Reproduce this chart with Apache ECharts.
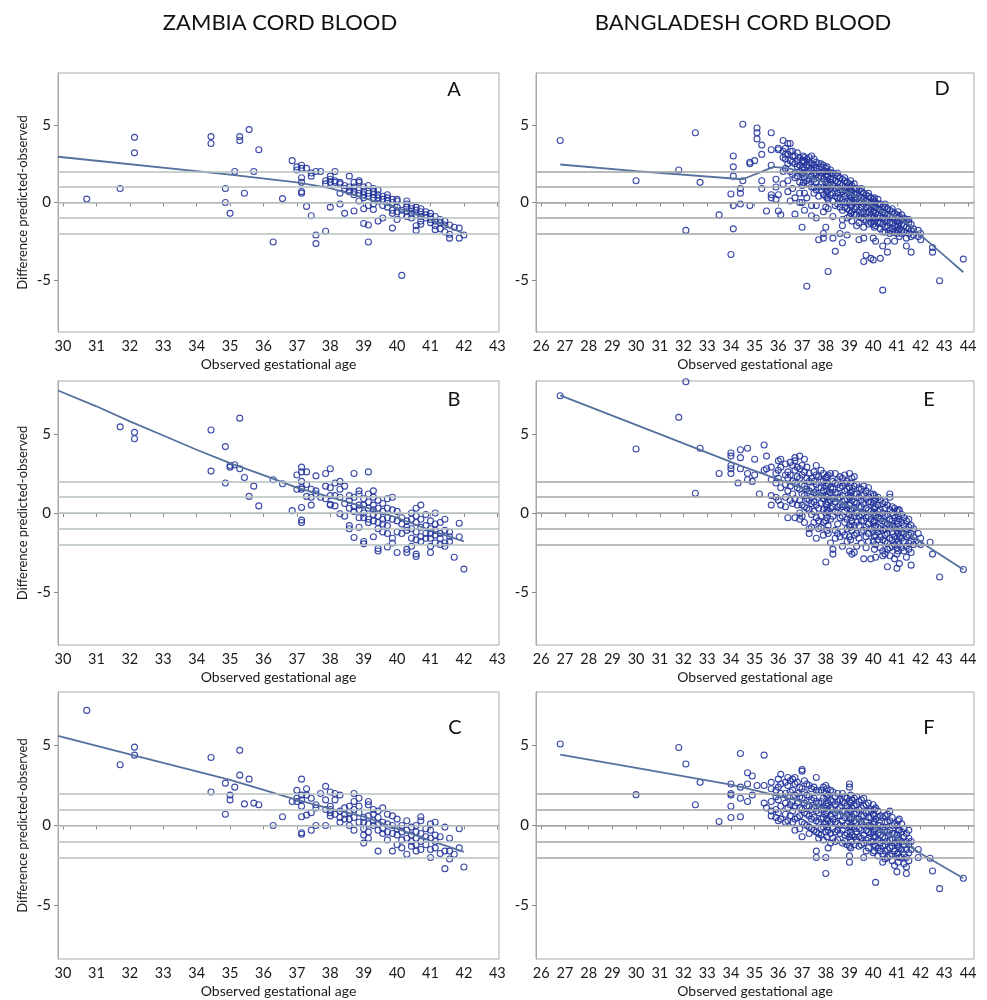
<!DOCTYPE html>
<html><head><meta charset="utf-8">
<script src="https://cdn.jsdelivr.net/npm/echarts@6/dist/echarts.min.js"></script>
<style>html,body{margin:0;padding:0;background:#fff}#chart{width:987px;height:1000px}</style>
</head><body><div id="chart"></div>
<script>
// ---------- data ----------
const columnTitles = ['ZAMBIA CORD BLOOD', 'BANGLADESH CORD BLOOD'];
const panelLetters = ['A', 'B', 'C', 'D', 'E', 'F'];
const xAxisTitle = 'Observed gestational age';
const yAxisTitle = 'Difference predicted-observed';
const zambiaTicks = [30, 31, 32, 33, 34, 35, 36, 37, 38, 39, 40, 41, 42, 43];
const bangladeshTicks = [26, 27, 28, 29, 30, 31, 32, 33, 34, 35, 36, 37, 38, 39, 40, 41, 42, 43, 44];
const diffTicks = [-5, 0, 5];
const refLevels = [-2, -1, 0, 1, 2];

// scatter data grouped as [gestational age, [differences...]]
const zambiaA = [
 [30.71,[0.22]],[31.71,[0.9]],[32.14,[4.2,3.2]],[34.43,[4.25,3.8]],[34.86,[0.9,0.0]],[35.0,[-0.7]],
 [35.14,[2.0]],[35.29,[4.25,4.0]],[35.43,[0.6]],[35.57,[4.7]],[35.71,[2.0]],[35.86,[3.4]],
 [36.29,[-2.55]],[36.57,[0.25]],[36.86,[2.7]],[37.0,[2.3,2.1]],[37.14,[2.4,2.2,1.6,1.3,0.7,0.6]],
 [37.29,[2.2,-0.25]],[37.43,[1.9,1.7,-0.85]],[37.57,[2.0,-2.1,-2.65]],[37.71,[2.0]],[37.86,[1.4,1.2,-1.85]],
 [38.0,[1.7,1.5,1.3,-0.3]],[38.14,[2.0,1.4,1.3]],[38.29,[1.3,1.2,0.6,-0.1]],[38.43,[1.1,0.9,-0.7]],
 [38.57,[1.7,1.0,0.8,0.7]],[38.71,[1.3,1.0,0.7,0.5,-0.55]],[38.86,[1.4,1.3,0.8,0.6,0.1]],
 [39.0,[1.0,0.7,0.5,0.3,-0.4,-1.35]],[39.14,[1.1,0.6,0.4,-0.2,-1.45,-2.55]],[39.29,[0.9,0.7,0.5,0.3,-0.1,-0.45]],
 [39.43,[0.8,0.5,0.3,0.1,-1.2]],[39.57,[0.4,0.2,-0.2,-1.0]],[39.71,[0.5,0.3,0.1,-0.3]],
 [39.86,[0.2,0.0,-0.5,-0.7,-1.65]],[40.0,[0.2,0.1,-0.3,-0.6,-1.1]],[40.14,[-0.5,-0.8,-4.7]],
 [40.29,[0.1,-0.1,-0.3,-0.6,-0.9]],[40.43,[-0.2,-0.4,-0.7,-1.0]],[40.57,[-0.3,-0.5,-0.8,-1.5,-1.8]],
 [40.71,[-0.4,-0.6,-0.9,-1.2,-1.4]],[40.86,[-0.6,-0.8,-1.0]],[41.0,[-0.7,-0.9,-1.1,-1.3]],
 [41.14,[-0.9,-1.2,-1.5,-1.75]],[41.29,[-1.1,-1.3,-1.7]],[41.43,[-1.2,-1.45,-1.9]],
 [41.57,[-1.45,-2.05,-2.3]],[41.71,[-1.6]],[41.86,[-1.65,-2.3]],[42.0,[-2.1]]
];
const zambiaB = [
 [31.71,[5.45]],[32.14,[5.1,4.7]],[34.43,[5.25,2.65]],[34.86,[4.2,1.9]],[35.0,[3.0,2.9]],[35.14,[3.05]],
 [35.29,[6.0,2.8]],[35.43,[2.25]],[35.57,[1.05]],[35.71,[1.7]],[35.86,[0.45]],[36.29,[2.1]],[36.57,[1.85]],
 [36.86,[0.15]],[37.0,[2.4,1.5]],[37.14,[2.9,2.6,2.0,1.6,1.5,0.35,-0.45,-0.6]],[37.29,[2.6,1.8,1.05]],
 [37.43,[1.5,1.0,0.5]],[37.57,[2.35,1.4,1.2]],[37.71,[1.0]],[37.86,[2.5,1.7,0.9]],[38.0,[2.8,1.6,1.1,0.55,0.5]],
 [38.14,[1.9,1.1,0.45]],[38.29,[2.0,1.5,1.0,-0.05]],[38.43,[1.7,0.6,-0.2]],[38.57,[1.1,0.8,0.3,-0.8,-1.0]],
 [38.71,[2.5,1.0,0.4,0.1,-1.55]],[38.86,[1.4,1.2,0.5,0.2,-0.3,-0.9]],[39.0,[0.9,0.5,0.0,-0.3,-1.8,-1.95]],
 [39.14,[2.6,1.2,0.7,0.3,-0.4,-0.6]],[39.29,[1.4,1.0,0.5,0.2,-0.1,-0.5,-1.5]],
 [39.43,[0.8,0.3,-0.2,-0.6,-1.0,-2.25,-2.4]],[39.57,[0.6,0.1,-0.4,-0.7,-1.2]],
 [39.71,[0.9,0.3,-0.3,-0.8,-1.3,-2.15]],[39.86,[1.0,0.2,-0.4,-1.6,-1.9]],[40.0,[0.1,-0.5,-1.2,-2.5]],
 [40.14,[-0.3,-0.7,-1.3]],[40.29,[-0.5,-0.9,-1.1,-2.3,-2.5]],[40.43,[0.0,-0.4,-1.0,-1.6,-2.1]],
 [40.57,[0.3,-0.2,-0.6,-1.2,-1.7,-2.6,-2.75]],[40.71,[0.5,-0.4,-0.9,-1.5,-1.8]],[40.86,[-0.1,-0.8,-1.3,-1.6]],
 [41.0,[-0.5,-1.0,-1.3,-1.6,-2.1,-2.5]],[41.14,[0.0,-0.7,-1.1,-1.4,-1.9]],[41.29,[-0.6,-1.3,-1.6,-2.0]],
 [41.43,[-0.4,-1.1,-1.9,-2.1]],[41.57,[-1.2,-1.5,-1.8]],[41.71,[-2.8]],[41.86,[-0.65,-1.5]],[42.0,[-3.55]]
];
const zambiaC = [
 [30.71,[7.2]],[31.71,[3.8]],[32.14,[4.9,4.4]],[34.43,[4.25,2.1]],[34.86,[2.65,0.7]],[35.0,[1.9,1.6]],
 [35.14,[2.4]],[35.29,[4.7,3.15]],[35.43,[1.35]],[35.57,[2.9]],[35.71,[1.4]],[35.86,[1.3]],[36.29,[0.0]],
 [36.57,[0.55]],[36.86,[1.5]],[37.0,[2.2,1.7,1.5]],[37.14,[2.9,1.9,1.6,1.2,0.55,-0.45,-0.55]],
 [37.29,[2.3,1.9,0.65]],[37.43,[1.7,0.8,-0.3]],[37.57,[1.3,1.1,0.0]],[37.71,[2.0]],[37.86,[2.45,1.6,1.0,0.0]],
 [38.0,[2.1,1.2,1.0,0.8,0.6]],[38.14,[2.0,1.6,0.7]],[38.29,[1.9,0.9,0.5,0.2]],[38.43,[1.1,0.7,0.4]],
 [38.57,[1.2,0.8,0.4,0.0]],[38.71,[2.0,1.5,1.0,0.5,-0.3]],[38.86,[1.7,1.2,0.8,0.2]],
 [39.0,[0.5,0.2,-0.2,-0.6,-1.1]],[39.14,[1.5,1.3,0.6,0.1,-0.4,-0.8]],[39.29,[1.0,0.7,0.3,0.0]],
 [39.43,[0.9,0.5,0.1,-0.3,-1.6]],[39.57,[1.1,0.2,-0.2,-0.5]],[39.71,[0.7,0.1,-0.4,-0.9]],
 [39.86,[0.6,0.0,-0.5,-1.6]],[40.0,[0.4,-0.2,-0.6,-1.2]],[40.14,[0.0,-0.4,-0.9,-1.4]],
 [40.29,[0.3,-0.3,-0.8,-1.8]],[40.43,[-0.1,-0.6,-1.0,-1.3]],[40.57,[0.0,-0.4,-0.8,-1.2,-1.6]],
 [40.71,[0.55,0.3,-0.5,-1.0,-1.5]],[40.86,[-0.2,-0.7,-1.2]],[41.0,[0.1,-0.3,-0.8,-1.5,-2.0]],
 [41.14,[0.2,-0.6,-1.0,-1.4]],[41.29,[-0.7,-1.75]],[41.43,[-0.1,-1.6,-2.7]],[41.57,[-0.8,-1.6,-2.1]],
 [41.71,[-1.8]],[41.86,[-0.2,-1.4]],[42.0,[-2.6]]
];
const bangladeshD = [
 [26.8,[4.0]],[30.0,[1.4]],[31.8,[2.1]],[32.1,[-1.8]],[32.5,[4.5]],[32.7,[1.3]],[33.5,[-0.8]],
 [34.0,[0.55,-3.35]],[34.1,[3.0,2.3,1.7,-0.2,-1.7]],[34.4,[0.9,0.6,-0.1]],[34.5,[5.05,1.4]],
 [34.8,[2.6,2.5,-0.2]],[35.0,[2.7]],[35.1,[4.8,4.5,4.1]],[35.3,[3.7,3.1,1.4,0.9]],[35.5,[-0.55]],
 [35.7,[4.5,3.4,2.4,0.5,0.3]],[35.9,[1.5,1.0,0.2]],[36.0,[3.5,3.4,0.5,-0.55]],[36.1,[-0.8]],
 [36.2,[4.0,3.3,2.9,2.0,1.2]],[36.4,[3.8,3.1,2.5,1.4,0.7]],[36.5,[3.8,3.3,2.7,2.0,0.1]],
 [36.7,[3.0,2.5,1.6,0.3,-0.75]],[36.9,[2.9,2.4,2.0,1.3,0.6,0.0]],[37.0,[2.7,2.2,1.8,1.1,0.0,-1.6]],
 [37.1,[2.9,2.6,2.1,1.6,0.6,-0.5]],[37.2,[2.8,2.4,1.9,1.4,0.3,-5.4]],[37.4,[3.0,2.5,2.2,1.7,1.0,-0.2,-0.85]],
 [37.6,[2.6,2.2,1.8,1.3,0.8,-0.2,-1.0]],[37.7,[2.5,2.0,1.6,1.0,0.4,-2.4]],
 [37.9,[2.4,2.0,1.5,1.0,0.5,-0.6,-2.0,-2.3]],[38.0,[2.2,1.8,1.3,0.9,0.4,-0.3,-1.6]],
 [38.1,[2.0,1.7,1.2,0.8,0.2,-0.4,-4.45]],[38.3,[1.9,1.5,1.1,0.6,0.1,-0.9,-2.3]],
 [38.4,[1.8,1.4,0.9,0.4,-0.2,-3.15]],[38.6,[1.6,1.2,0.8,0.3,-0.3,-2.0]],
 [38.7,[1.5,1.1,0.7,0.2,-0.5,-1.1,-1.5,-2.6]],[38.9,[1.3,1.0,0.6,0.1,-0.4,-1.0,-2.1]],
 [39.0,[1.2,0.9,0.5,0.0,-0.5,-0.9]],[39.1,[1.1,0.7,0.3,-0.2,-0.6,-1.2]],[39.3,[0.9,0.6,0.2,-0.3,-0.8,-1.5]],
 [39.4,[0.8,0.4,0.0,-0.5,-0.9,-1.3,-2.4]],[39.6,[0.6,0.3,-0.1,-0.6,-1.1,-1.6,-2.3,-3.8]],
 [39.7,[0.5,0.1,-0.3,-0.7,-1.2,-3.4]],[39.9,[0.3,0.0,-0.4,-0.8,-1.3,-3.6]],
 [40.0,[0.2,-0.2,-0.6,-1.0,-1.4,-2.3,-3.7]],[40.1,[0.0,-0.3,-0.7,-1.1,-1.5,-2.5]],
 [40.3,[-0.1,-0.5,-0.9,-1.3,-1.7,-3.6]],[40.4,[-0.3,-0.6,-1.0,-1.4,-1.9,-2.8,-5.65]],
 [40.6,[-0.4,-0.8,-1.2,-1.5,-2.5,-3.2]],[40.7,[-0.5,-0.9,-1.3,-1.8,-2.0]],[40.9,[-0.7,-1.1,-1.5,-1.9,-2.5]],
 [41.0,[-0.8,-1.2,-1.6,-2.0]],[41.1,[-0.9,-1.3,-1.7,-2.2]],[41.3,[-1.0,-1.5,-1.9]],
 [41.4,[-1.1,-1.6,-2.3,-2.8]],[41.6,[-1.4,-1.8,-2.2,-3.2]],[41.7,[-1.7,-2.1]],[41.9,[-1.8,-2.2]],
 [42.0,[-2.0,-2.4]],[42.5,[-2.9,-3.2]],[42.8,[-5.05]],[43.8,[-3.65]],
 [36.3,[3.5,3.1,2.8,2.2]],[36.6,[3.3,3.0,2.6,1.8,0.9]],[36.8,[3.2,2.7,2.3,1.7]],
 [37.05,[3.0,2.7,2.3,1.9,1.3]],[37.3,[2.9,2.6,2.4,2.0,1.5,1.2]],[37.5,[2.8,2.4,2.1,1.9,1.5,1.0,0.6]],
 [37.8,[2.5,2.3,1.9,1.7,1.2,0.8]],[38.05,[2.3,2.0,1.8,1.4,1.0,0.7,0.3]],[38.2,[2.1,1.9,1.5,1.3,0.9,0.5]],
 [38.5,[1.9,1.7,1.3,1.0,0.6,0.3,-0.1]],[38.8,[1.6,1.4,1.0,0.8,0.4,0.0,-0.3]],
 [39.05,[1.4,1.0,0.8,0.4,0.1,-0.2,-0.7]],[39.2,[1.2,0.9,0.5,0.3,0.0,-0.4,-0.8]],
 [39.5,[0.9,0.7,0.3,0.1,-0.3,-0.7,-1.0]],[39.8,[0.6,0.4,0.0,-0.2,-0.6,-1.0,-1.4]],
 [40.05,[0.3,0.1,-0.3,-0.5,-0.9,-1.2,-1.6]],[40.2,[0.2,-0.1,-0.4,-0.8,-1.0,-1.3]],
 [40.5,[-0.1,-0.3,-0.7,-1.0,-1.2,-1.6,-1.9]],[40.8,[-0.4,-0.6,-1.0,-1.3,-1.7,-1.9]],
 [41.05,[-0.6,-1.0,-1.2,-1.5,-1.8]],[41.2,[-0.8,-1.1,-1.4,-1.8,-2.0]],[41.5,[-1.1,-1.3,-1.7,-2.0]]
];
const bangladeshE = [
 [26.8,[7.42]],[30.0,[4.05]],[31.8,[6.05]],[32.1,[8.3]],[32.5,[1.25]],[32.7,[4.1]],[33.5,[2.5]],
 [34.0,[3.8,3.6,3.0,2.8,2.5]],[34.3,[1.9]],[34.4,[4.0,3.5,2.8]],[34.7,[4.1,2.5,2.1]],[34.9,[2.0]],
 [35.0,[3.4,2.4]],[35.2,[1.2]],[35.4,[4.3,2.7]],[35.5,[3.6,2.8]],[35.7,[2.9,2.1,1.1,0.5]],
 [35.9,[2.5,1.9,1.0]],[36.0,[3.3,2.7,2.2,0.8]],[36.1,[3.4,2.9,1.6,0.5]],[36.3,[3.1,2.4,1.8,1.0,0.4]],
 [36.4,[2.6,2.2,1.4,-0.3]],[36.6,[3.0,2.0,1.2,0.6]],[36.7,[3.5,3.3,2.7,1.9,0.9,-0.3]],
 [36.9,[3.6,2.8,2.2,1.5,0.8,0.0,-0.4]],[37.0,[3.0,2.4,1.8,1.2,0.5,-0.2]],[37.1,[3.4,2.6,1.7,1.1,0.4,-0.6]],
 [37.3,[2.5,2.0,1.4,0.8,0.2,-1.0,-1.3]],[37.4,[2.2,1.6,1.0,0.6,-0.1,-0.9]],
 [37.6,[3.0,2.4,1.8,1.2,0.5,-0.3,-1.6]],[37.7,[2.3,1.6,1.0,0.3,-0.5,-1.0]],
 [37.9,[2.5,2.0,1.4,0.9,0.2,-0.6,-1.4]],[38.0,[2.2,1.7,1.1,0.6,0.0,-0.5,-3.1]],
 [38.1,[2.4,1.8,1.2,0.7,0.1,-0.8,-1.3]],[38.3,[2.0,1.5,0.9,0.4,-0.2,-2.3,-2.6]],
 [38.4,[2.5,1.9,1.3,0.7,0.1,-1.1,-1.6]],[38.6,[2.3,1.6,1.0,0.5,-0.3,-1.5]],
 [38.7,[2.2,1.7,1.1,0.4,-0.2,-1.2,-2.1]],[38.9,[2.0,1.5,0.9,0.3,-0.4,-1.0,-1.8]],
 [39.0,[2.5,1.6,1.0,0.5,-0.1,-0.8,-1.5,-2.4]],[39.1,[2.2,1.4,0.8,0.2,-0.5,-1.1,-2.6]],
 [39.3,[1.8,1.2,0.6,0.0,-0.6,-1.3,-2.1]],[39.4,[1.6,1.0,0.4,-0.2,-0.8,-1.6]],
 [39.6,[1.7,1.2,0.6,0.0,-0.5,-1.1,-2.9]],[39.7,[1.4,0.9,0.3,-0.3,-0.9,-1.5,-2.2]],
 [39.9,[1.2,0.7,0.1,-0.4,-1.0,-2.9]],[40.0,[1.2,0.6,0.0,-0.6,-1.2,-1.8]],
 [40.1,[0.9,0.4,-0.2,-0.8,-1.4,-2.0,-2.8]],[40.3,[0.8,0.2,-0.4,-1.0,-1.5,-2.2]],
 [40.4,[0.6,0.0,-0.5,-1.1,-1.7,-2.4,-2.7]],[40.6,[0.5,-0.1,-0.7,-1.3,-1.9,-2.3,-3.4]],
 [40.7,[1.2,1.0,0.2,-0.4,-1.0,-1.6,-2.2,-2.7]],[40.9,[0.3,-0.3,-0.9,-1.5,-2.0,-2.9]],
 [41.0,[0.1,-0.5,-1.1,-1.6,-2.2,-2.6,-3.5]],[41.1,[0.2,-0.4,-1.0,-1.5,-2.0,-3.2]],
 [41.3,[-0.3,-0.8,-1.3,-1.8,-2.4]],[41.4,[-0.5,-1.0,-1.5,-2.1,-2.8]],[41.6,[-0.8,-1.3,-1.8,-2.5,-3.3]],
 [41.7,[-1.0,-1.5,-2.0]],[41.9,[-1.3,-1.9]],[42.0,[-1.6,-2.0]],[42.4,[-1.85]],[42.5,[-2.6]],
 [42.8,[-4.05]],[43.8,[-3.57]],
 [36.5,[3.2,2.4,1.7,0.8]],[36.8,[2.9,2.3,1.6,0.5]],[37.2,[2.9,2.2,1.5,0.9,0.3]],
 [37.5,[2.6,2.0,1.3,0.7,0.1,-0.6]],[37.8,[2.7,2.1,1.6,1.1,0.6,-0.2,-0.9]],
 [38.05,[2.3,1.9,1.4,1.0,0.5,0.2,-0.3,-1.1]],[38.2,[2.5,1.6,1.3,0.8,0.3,-0.4,-1.9]],
 [38.5,[2.1,1.8,1.2,0.9,0.4,0.0,-0.7,-1.3]],[38.8,[2.4,1.9,1.4,0.8,0.5,0.1,-0.6,-1.4]],
 [39.05,[1.9,1.3,1.1,0.6,0.2,-0.3,-0.9,-1.7]],[39.2,[2.3,1.7,1.2,0.7,0.3,-0.2,-0.8,-1.4,-2.5]],
 [39.5,[1.5,1.1,0.8,0.4,-0.1,-0.5,-1.2,-1.9]],[39.8,[1.6,1.0,0.7,0.2,-0.2,-0.7,-1.3,-1.8]],
 [40.05,[1.1,0.8,0.3,-0.1,-0.5,-0.9,-1.5,-2.3]],[40.2,[1.0,0.5,0.1,-0.3,-0.9,-1.2,-1.7]],
 [40.5,[0.7,0.3,-0.2,-0.6,-1.0,-1.4,-1.8,-2.6]],[40.8,[0.4,0.0,-0.5,-0.8,-1.2,-1.7,-2.1]],
 [41.05,[0.2,-0.2,-0.7,-1.3,-1.8,-2.4]],[41.2,[-0.1,-0.6,-1.2,-1.6,-2.2]],[41.5,[-0.4,-0.9,-1.4,-1.9,-2.3]]
];
const bangladeshF = [
 [26.8,[5.1]],[30.0,[1.93]],[31.8,[4.88]],[32.1,[3.85]],[32.5,[1.3]],[32.7,[2.7]],[33.5,[0.25]],
 [34.0,[2.6,2.0,1.9,1.2,0.5]],[34.4,[4.5,2.4,1.7,0.55]],[34.7,[3.3,2.6,1.5]],[34.9,[3.1,1.9]],[35.1,[2.5]],
 [35.4,[4.4,2.5,1.4]],[35.5,[1.1]],[35.7,[2.7,2.3,1.5,0.9,0.6]],[35.9,[2.2,1.8,1.0,0.5]],
 [36.0,[2.9,2.4,1.6,0.8,0.3]],[36.1,[3.2,2.6,2.0,1.2,0.4]],[36.3,[2.7,2.0,1.4,0.7,0.2]],
 [36.4,[3.0,2.5,1.8,1.1,0.3]],[36.6,[2.9,2.2,1.5,0.9,0.2]],[36.7,[3.0,2.6,1.9,1.2,0.4,-0.3]],
 [36.9,[2.4,1.8,1.1,0.6,-0.2]],[37.0,[3.5,3.4,2.3,1.7,1.0,0.2,-0.7]],[37.1,[2.8,2.1,1.4,0.8,0.1]],
 [37.3,[2.5,1.8,1.2,0.6,-0.1,-0.5]],[37.4,[2.3,1.6,1.0,0.4,-0.2]],
 [37.6,[3.0,2.2,1.5,0.9,0.3,-0.4,-1.6,-2.0]],[37.7,[2.1,1.4,0.8,0.2,-0.5,-0.8]],
 [37.9,[2.4,1.7,1.1,0.5,-0.1,-0.9]],[38.0,[2.5,2.0,1.3,0.7,0.1,-0.4,-2.0,-3.0]],
 [38.1,[1.9,1.4,0.9,0.3,-0.3,-1.4]],[38.3,[2.1,1.5,1.0,0.4,-0.2,-0.8]],[38.4,[1.8,1.3,0.8,0.2,-0.4,-1.0]],
 [38.6,[1.6,1.1,0.6,0.0,-0.5]],[38.7,[2.0,1.5,0.9,0.3,-0.3,-1.1]],[38.9,[1.7,1.2,0.7,0.1,-0.5,-1.2]],
 [39.0,[2.6,2.4,1.5,1.0,0.5,-0.1,-0.7,-1.3,-1.9,-2.3]],[39.1,[1.6,1.1,0.5,-0.1,-0.6,-1.0]],
 [39.3,[1.8,1.3,0.8,0.2,-0.4,-0.9]],[39.4,[1.5,1.0,0.4,-0.2,-0.7,-1.3]],
 [39.6,[1.7,1.2,0.6,0.0,-0.6,-1.1,-2.0]],[39.7,[1.3,0.8,0.2,-0.3,-0.9,-1.6]],
 [39.9,[1.0,0.5,0.0,-0.5,-1.0]],[40.0,[1.3,0.7,0.1,-0.4,-1.0,-1.7]],
 [40.1,[1.1,0.4,-0.2,-0.7,-1.3,-3.56]],[40.3,[0.6,0.0,-0.6,-1.1,-1.6]],
 [40.4,[0.5,-0.1,-0.7,-1.3,-1.8,-2.3]],[40.6,[0.7,0.2,-0.4,-1.0,-1.5,-2.0]],
 [40.7,[0.9,0.3,-0.3,-0.9,-1.4,-1.9]],[40.9,[0.1,-0.5,-1.1,-1.6,-2.5]],[41.0,[0.0,-0.6,-1.2,-1.8,-2.9]],
 [41.1,[0.4,-0.3,-0.9,-1.4,-2.0]],[41.3,[-0.2,-0.7,-1.2,-1.8,-2.4]],[41.4,[-0.5,-1.0,-1.5,-2.0,-2.6,-3.0]],
 [41.6,[-1.0,-1.5]],[41.9,[-1.5,-2.0]],[42.4,[-2.05]],[42.5,[-2.85]],[42.8,[-3.95]],[43.8,[-3.3]],
 [36.5,[2.8,2.1,1.3,0.6]],[36.8,[2.7,2.0,1.4,0.5]],[37.2,[2.6,1.9,1.2,0.7,0.0]],
 [37.5,[2.4,1.7,1.1,0.5,-0.3]],[37.8,[2.2,1.5,1.0,0.4,-0.2,-0.6]],
 [38.05,[2.3,1.8,1.2,0.8,0.4,-0.1,-0.7]],[38.2,[2.2,1.6,1.1,0.6,0.2,-0.5,-1.1]],
 [38.5,[2.0,1.5,1.0,0.6,0.1,-0.3,-0.9]],[38.8,[1.8,1.4,0.9,0.5,0.0,-0.6,-1.0]],
 [39.05,[1.9,1.4,0.9,0.4,0.0,-0.4,-0.9,-1.4]],[39.2,[1.7,1.2,0.7,0.3,-0.2,-0.7,-1.2]],
 [39.5,[1.6,1.1,0.6,0.2,-0.3,-0.8,-1.2]],[39.8,[1.4,0.9,0.5,0.0,-0.4,-0.8,-1.4]],
 [40.05,[1.0,0.6,0.2,-0.3,-0.7,-1.2,-1.6]],[40.2,[0.9,0.5,0.0,-0.5,-0.9,-1.4,-1.9]],
 [40.5,[0.6,0.2,-0.3,-0.8,-1.2,-1.6,-2.1]],[40.8,[0.5,0.0,-0.5,-0.9,-1.3,-1.8,-2.2]],
 [41.05,[0.3,-0.3,-0.8,-1.3,-1.7,-2.3]],[41.2,[0.1,-0.4,-1.0,-1.5,-2.0]],[41.5,[-0.3,-0.8,-1.2,-1.7,-2.2]]
];

// smoothed trend lines [age, difference]
const trendA = [[29.85,2.95],[35,1.8],[37,1.3],[38,0.92],[39,0.3],[40,-0.35],[41,-1.1],[42,-2.0]];
const trendB = [[29.85,7.75],[31,6.75],[32,5.8],[33,4.9],[34,4.0],[35,3.15],[36,2.4],[37,1.6],[38,1.0],[39,0.4],[40,-0.3],[41,-1.1],[42,-1.8]];
const trendC = [[29.85,5.6],[32,4.45],[35,2.85],[37,1.6],[38,1.05],[39,0.55],[40,-0.2],[41,-0.95],[42,-1.65]];
const trendD = [[26.8,2.45],[30,2.02],[34.5,1.5],[35.8,2.3],[36.5,2.19],[37,1.88],[38,1.24],[39,0.6],[39.5,0.17],[40,-0.26],[40.5,-0.68],[41,-0.95],[41.5,-1.42],[42,-2.1],[43,-3.43],[43.8,-4.5]];
const trendE = [[26.8,7.44],[30,5.58],[34.4,3.0],[37.9,1.08],[40,-0.17],[41,-0.95],[41.7,-1.55],[43.8,-3.58]];
const trendF = [[26.8,4.43],[30,3.6],[34,2.55],[37,1.5],[39,0.56],[40,-0.06],[41,-0.8],[42,-1.75],[43.8,-3.3]];

// ---------- layout / style ----------
const FONT = 'Lato, "Open Sans", sans-serif';
const cols = [
  { left: 58, width: 441, min: 29.85, max: 43.05, ticks: zambiaTicks, ref: '#b7c2bf' },
  { left: 536, width: 438, min: 25.78, max: 44.25, ticks: bangladeshTicks, ref: '#a3a6a6' }
];
const rows = [ { top: 73, height: 259 }, { top: 381, height: 264 }, { top: 692, height: 267 } ];
const panels = [
  { col: 0, row: 0, pts: zambiaA, trend: trendA, letter: [454, 90] },
  { col: 0, row: 1, pts: zambiaB, trend: trendB, letter: [454, 400] },
  { col: 0, row: 2, pts: zambiaC, trend: trendC, letter: [455, 728] },
  { col: 1, row: 0, pts: bangladeshD, trend: trendD, letter: [942, 89] },
  { col: 1, row: 1, pts: bangladeshE, trend: trendE, letter: [929, 400] },
  { col: 1, row: 2, pts: bangladeshF, trend: trendF, letter: [929, 728] }
];
function expand(groups) {
  const out = [];
  groups.forEach(g => g[1].forEach(v => out.push([g[0], v])));
  return out;
}

const grid = [], xAxis = [], yAxis = [], series = [], graphic = [];
panels.forEach((p, i) => {
  const c = cols[p.col], r = rows[p.row];
  grid.push({ left: c.left, top: r.top, width: c.width, height: r.height, show: true,
    borderColor: '#a9a9a9', borderWidth: 1, backgroundColor: '#fff', containLabel: false, outerBoundsMode: 'none' });
  xAxis.push({ type: 'value', gridIndex: i, min: c.min, max: c.max,
    name: xAxisTitle, nameLocation: 'middle', nameGap: 25,
    nameTextStyle: { fontFamily: FONT, fontSize: 14, color: '#1a1a1a' },
    axisLine: { show: true, lineStyle: { color: '#a9a9a9', width: 1 } },
    axisTick: { show: true, length: 4, customValues: c.ticks, lineStyle: { color: '#8a8a8a' } },
    axisLabel: { customValues: c.ticks, margin: 7, fontFamily: FONT, fontSize: 14.5, color: '#1a1a1a' },
    splitLine: { show: false } });
  yAxis.push({ type: 'value', gridIndex: i, min: -8.35, max: 8.35,
    name: p.col === 0 ? yAxisTitle : '', nameLocation: 'middle', nameGap: 29, nameRotate: 90,
    nameTextStyle: { fontFamily: FONT, fontSize: 13, color: '#1a1a1a' },
    axisLine: { show: true, lineStyle: { color: '#a9a9a9', width: 1 } },
    axisTick: { show: true, length: 4, customValues: diffTicks, lineStyle: { color: '#8a8a8a' } },
    axisLabel: { customValues: diffTicks, margin: 7, fontFamily: FONT, fontSize: 15, color: '#1a1a1a' },
    splitLine: { show: false } });
  series.push({ type: 'scatter', xAxisIndex: i, yAxisIndex: i, data: expand(p.pts),
    symbol: 'circle', symbolSize: 6, clip: true, silent: true,
    itemStyle: { color: 'rgba(0,0,0,0)', borderColor: '#25369c', borderWidth: 1.1, opacity: 0.9 },
    markLine: { silent: true, symbol: 'none', label: { show: false }, animation: false,
      lineStyle: { color: c.ref, width: 1.6, type: 'solid' },
      data: refLevels.map(v => ({ yAxis: v })) }, z: 3 });
  series.push({ type: 'line', xAxisIndex: i, yAxisIndex: i, data: p.trend, showSymbol: false,
    symbol: 'none', clip: true, silent: true, lineStyle: { color: '#56719e', width: 1.8 }, z: 4 });
  graphic.push({ type: 'text', x: p.letter[0], y: p.letter[1],
    style: { text: panelLetters[i], fontFamily: FONT, fontSize: 20, fill: '#111',
      textAlign: 'center', textVerticalAlign: 'middle' }, z: 10 });
});
graphic.push({ type: 'text', x: 280, y: 23, style: { text: columnTitles[0], fontFamily: FONT, fontSize: 22,
  fill: '#111', textAlign: 'center', textVerticalAlign: 'middle' } });
graphic.push({ type: 'text', x: 743, y: 23, style: { text: columnTitles[1], fontFamily: FONT, fontSize: 22,
  fill: '#111', textAlign: 'center', textVerticalAlign: 'middle' } });

const chart = echarts.init(document.getElementById('chart'), null, { renderer: 'canvas' });
chart.setOption({ animation: false, backgroundColor: '#fff', grid, xAxis, yAxis, series, graphic });
</script></body></html>
